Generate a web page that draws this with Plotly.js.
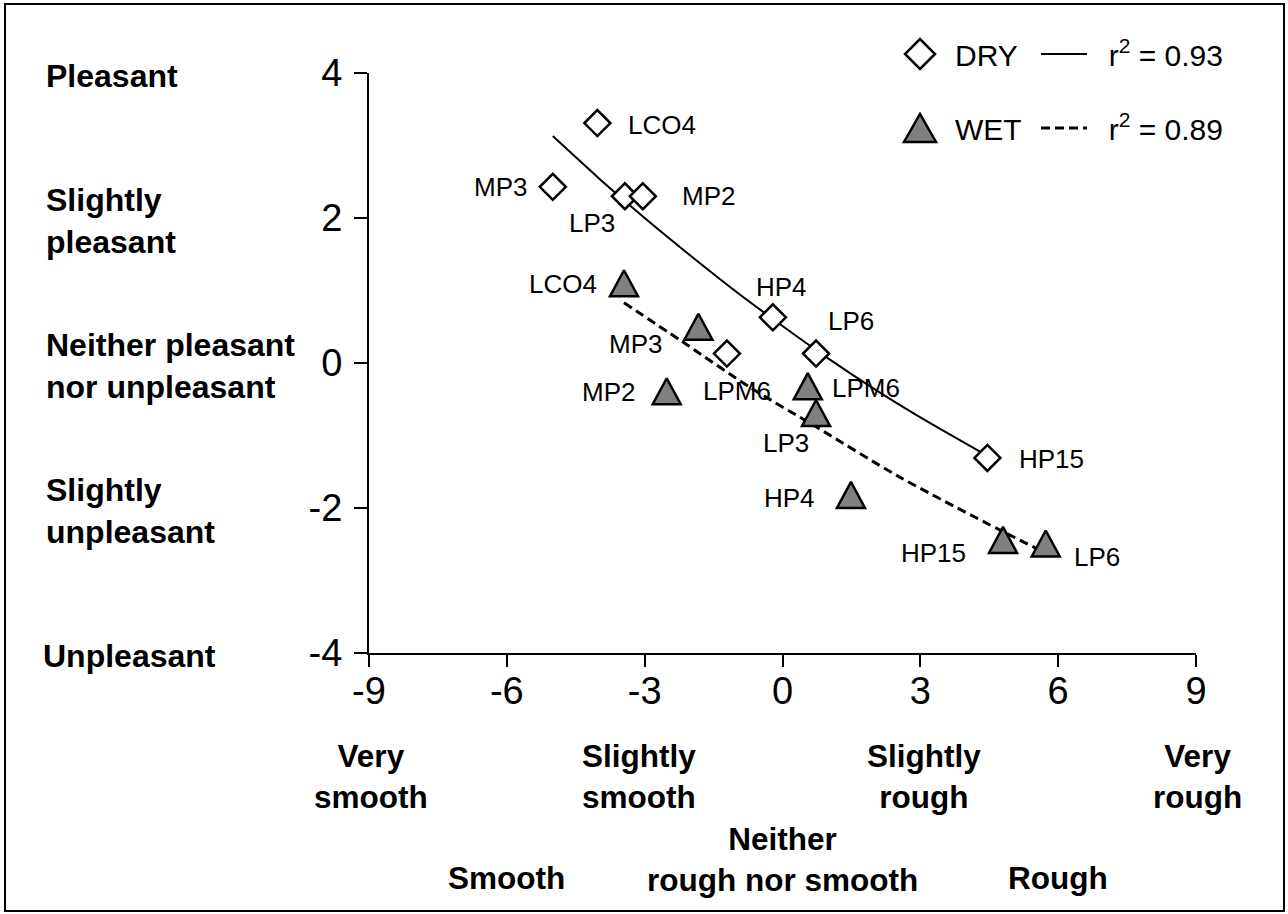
<!DOCTYPE html>
<html>
<head>
<meta charset="utf-8">
<script src="https://cdn.plot.ly/plotly-3.0.1.min.js"></script>
<style>
  html, body { margin: 0; padding: 0; background: #ffffff; }
  #wrap { position: relative; width: 1288px; height: 914px; }
  #chart { position: absolute; left: 0; top: 0; width: 1288px; height: 914px; }
  #frame { position: absolute; left: 4px; top: 3px; width: 1277px; height: 905px;
           border: 2px solid #000; pointer-events: none; }
</style>
</head>
<body>
<div id="wrap"><div id="chart"></div><div id="frame"></div></div>
<script>
// ---------- DATA ----------
const dryNames = ["LCO4", "MP3", "LP3", "MP2", "HP4", "LP6", "LPM6", "HP15"];
const dryX = [-4.03, -5.0, -3.43, -3.04, -0.21, 0.73, -1.21, 4.46];
const dryY = [3.31, 2.43, 2.30, 2.30, 0.63, 0.13, 0.13, -1.31];

const wetNames = ["LCO4", "MP3", "MP2", "LPM6", "LP3", "HP4", "HP15", "LP6"];
const wetX = [-3.45, -1.83, -2.52, 0.55, 0.73, 1.49, 4.80, 5.73];
const wetY = [1.10, 0.50, -0.39, -0.32, -0.69, -1.82, -2.44, -2.49];

// trend lines
const dryFitX = [-5.0, -4.0, -3.0, -2.0, -1.0, 0.0, 1.0, 2.0, 3.0, 4.46];
const dryFitY = [3.13, 2.55, 2.00, 1.48, 0.98, 0.51, 0.06, -0.36, -0.75, -1.28];
const wetFitX = [-3.45, -2.24, -0.72, 0.73, 2.54, 4.72, 5.73];
const wetFitY = [0.83, 0.32, -0.33, -0.88, -1.57, -2.30, -2.62];

const dryR2 = "\u00a0\u00a0r<sup>2</sup> = 0.93";
const wetR2 = "\u00a0\u00a0r<sup>2</sup> = 0.89";

const xTickVals = [-9, -6, -3, 0, 3, 6, 9];
const xTickText = ["-9", "-6", "-3", "0", "3", "6", "9"];
const yTickVals = [-4, -2, 0, 2, 4];
const yTickText = ["-4", "-2", "0", "2", "4"];

const yCatVals = [4, 2, 0, -2, -4];
const yCatLabels = ["Pleasant", "Slightly<br>pleasant", "Neither pleasant<br>nor unpleasant",
                    "Slightly<br>unpleasant", "Unpleasant"];
const xCatVals1 = [-9, -3, 3, 9];
const xCatLabels1 = ["Very<br>smooth", "Slightly<br>smooth", "Slightly<br>rough", "Very<br>rough"];
const xCatVals2 = [-6, 0, 6];
const xCatLabels2 = ["Smooth", "Neither<br>rough nor smooth", "Rough"];

// ---------- STYLE / POSITIONS ----------
const FONT = "Liberation Sans, Arial, sans-serif";
const W = 1288, H = 914;
const M = { l: 369, r: 92, t: 73, b: 261 };
const PW = W - M.l - M.r, PH = H - M.t - M.b;
const px2paperX = p => (p - M.l) / PW;
const px2paperY = p => (H - M.b - p) / PH;

// label placement offsets [xanchor, xshift, yshift]
const dryLabelPos = [
  ["left", 29, -2], ["right", -24, 0], ["center", -33, -27], ["left", 37, 0],
  ["center", 9, 30], ["left", 10, 33], ["center", 10, -37], ["left", 30, -1]
];
const wetLabelPos = [
  ["right", -25, -1], ["right", -34, -17], ["right", -30, -1], ["left", 22, -2],
  ["center", -30, -30], ["right", -34, -3], ["right", -35, -13], ["left", 26, -13]
];

const annotations = [];
function addLabels(names, xs, ys, pos) {
  names.forEach((n, i) => {
    annotations.push({
      x: xs[i], y: ys[i], xref: "x", yref: "y", text: n, showarrow: false,
      xanchor: pos[i][0], yanchor: "middle", xshift: pos[i][1], yshift: pos[i][2],
      font: { family: FONT, size: 26, color: "#000" }
    });
  });
}
addLabels(dryNames, dryX, dryY, dryLabelPos);
addLabels(wetNames, wetX, wetY, wetLabelPos);

const yCatFont = { family: FONT, size: 32, color: "#000" };
const xCatFont = { family: FONT, size: 31.5, color: "#000" };
const yCatLeft = [44, 44, 44, 44, 41];
yCatLabels.forEach((t, i) => {
  annotations.push({
    x: px2paperX(yCatLeft[i]), xref: "paper", y: yCatVals[i], yref: "y", text: "<b>" + t + "</b>",
    showarrow: false, xanchor: "left", align: "left", yanchor: "middle", yshift: -3,
    font: yCatFont
  });
});
const row1Shift = [2, -6, 4, 1];
xCatLabels1.forEach((t, i) => {
  annotations.push({
    x: xCatVals1[i], xref: "x", y: px2paperY(776), yref: "paper", text: "<b>" + t + "</b>",
    showarrow: false, xanchor: "center", align: "center", yanchor: "middle",
    xshift: row1Shift[i], font: xCatFont
  });
});
const row2Y = [878, 859, 878];
xCatLabels2.forEach((t, i) => {
  annotations.push({
    x: xCatVals2[i], xref: "x", y: px2paperY(row2Y[i]), yref: "paper", text: "<b>" + t + "</b>",
    showarrow: false, xanchor: "center", align: "center", yanchor: "middle", font: xCatFont
  });
});

const traces = [
  { x: dryFitX, y: dryFitY, mode: "lines", name: dryR2, legend: "legend2", legendgroup: "g1",
    line: { color: "#000", width: 2, shape: "spline", smoothing: 0.8 }, hoverinfo: "skip" },
  { x: wetFitX, y: wetFitY, mode: "lines", name: wetR2, legend: "legend2", legendgroup: "g2",
    line: { color: "#000", width: 3, dash: "9px,5px", shape: "spline", smoothing: 0.8 }, hoverinfo: "skip" },
  { x: dryX, y: dryY, mode: "markers", name: "DRY", legend: "legend", legendgroup: "g3",
    marker: { symbol: "diamond", size: 20, color: "#ffffff", line: { color: "#000", width: 2.5 } } },
  { x: wetX, y: wetY, mode: "markers", name: "WET", legend: "legend", legendgroup: "g4",
    marker: { symbol: "triangle-up", size: 24, color: "#808080", line: { color: "#000", width: 2.5 } } }
];

const axisCommon = {
  showgrid: false, zeroline: false, showline: true, linecolor: "#000", linewidth: 2,
  ticks: "outside", tickcolor: "#000", tickwidth: 2,
  tickfont: { family: FONT, size: 38, color: "#000" }, fixedrange: true
};

const layout = {
  width: W, height: H, margin: M, paper_bgcolor: "#fff", plot_bgcolor: "#fff",
  font: { family: FONT, color: "#000" },
  xaxis: Object.assign({}, axisCommon, { range: [-9, 9], tickvals: xTickVals, ticktext: xTickText,
                                         ticklen: 12, ticklabelstandoff: -9 }),
  yaxis: Object.assign({}, axisCommon, { range: [-4, 4], tickvals: yTickVals, ticktext: yTickText,
                                         ticklen: 13, ticklabelstandoff: 4 }),
  showlegend: true,
  legend: { x: px2paperX(885), y: px2paperY(28), xanchor: "left", yanchor: "top",
            font: { family: FONT, size: 30, color: "#000" }, bgcolor: "rgba(0,0,0,0)",
            traceorder: "grouped", tracegroupgap: 32, itemwidth: 60 },
  legend2: { x: px2paperX(1036), y: px2paperY(28), xanchor: "left", yanchor: "top",
             font: { family: FONT, size: 30, color: "#000" }, bgcolor: "rgba(0,0,0,0)",
             traceorder: "grouped", tracegroupgap: 32, itemwidth: 46 },
  annotations: annotations
};

Plotly.newPlot("chart", traces, layout, { staticPlot: true, displayModeBar: false }).then(gd => {
  // Excel-like symbol proportions (near-equilateral triangles, larger legend symbols)
  const traceGroups = gd.querySelectorAll(".scatterlayer .trace");
  if (traceGroups[3]) {
    traceGroups[3].querySelectorAll("path.point").forEach(p => p.setAttribute("d", "M-14,13H14L0,-13Z"));
  }
  const leg = gd.querySelector("g.legend");
  if (leg) {
    const pts = leg.querySelectorAll(".legendpoints path.scatterpts");
    if (pts[0]) pts[0].setAttribute("d", "M15,0L0,15L-15,0L0,-15Z");
    if (pts[1]) pts[1].setAttribute("d", "M-16,14H16L0,-14Z");
  }
});
</script>
</body>
</html>
